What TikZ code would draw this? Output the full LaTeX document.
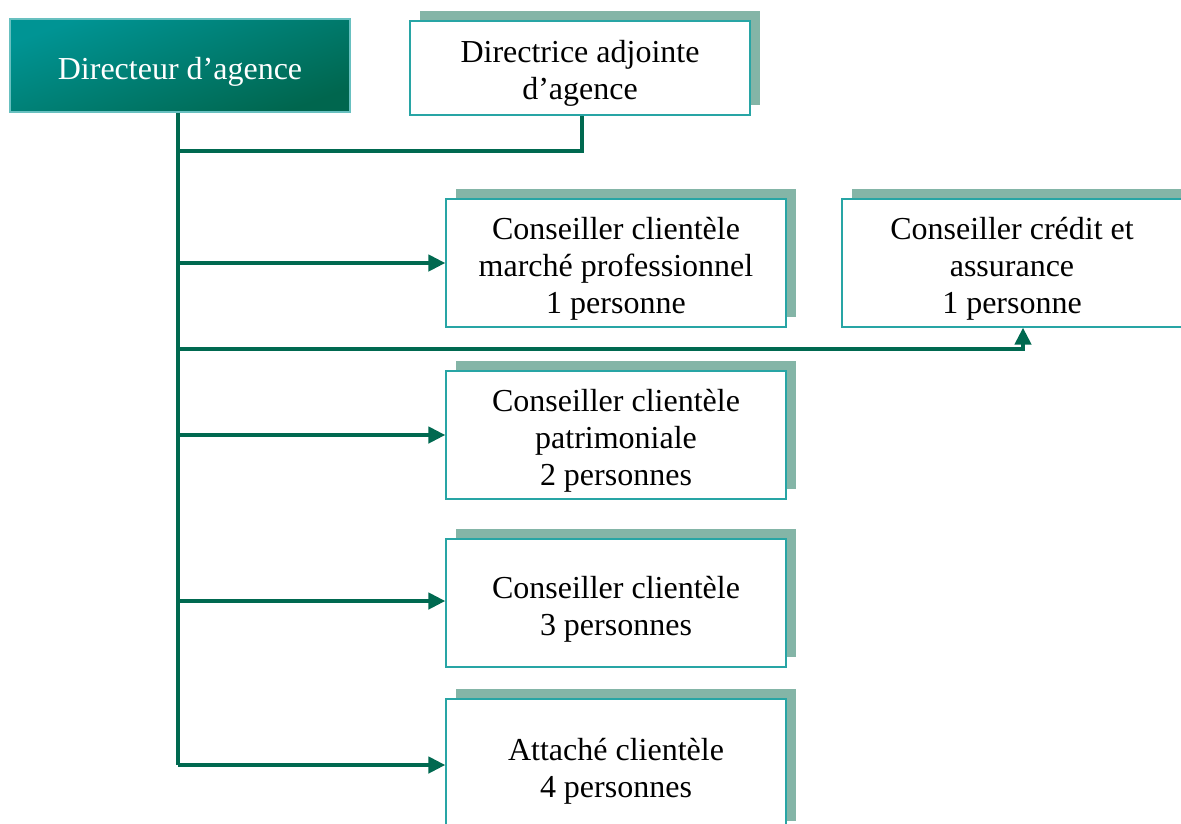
\documentclass[tikz,border=0pt]{standalone}
\usepackage{fontspec}
\setmainfont{Liberation Serif}
\usetikzlibrary{shadows,arrows.meta}
\definecolor{linec}{RGB}{0,105,80}
\definecolor{borderc}{RGB}{40,165,165}
\definecolor{shc}{RGB}{132,181,167}
\definecolor{dirtop}{RGB}{0,148,148}
\definecolor{dirbot}{RGB}{0,102,78}
\tikzset{
  orgbox/.style={draw=borderc, line width=1.2pt, fill=white, minimum width=340pt,
    minimum height=128pt, inner sep=0pt,
    drop shadow={shadow xshift=10pt, shadow yshift=10pt, fill=shc, opacity=1}},
  txt/.style={align=center, inner sep=0pt, font=\fontsize{32}{37}\selectfont},
  dirbox/.style={draw=borderc!70, line width=1.2pt, minimum width=340pt, minimum height=93pt,
    inner sep=0pt, text=white, font=\fontsize{32}{37}\selectfont, text height=34pt,
    top color=dirtop, bottom color=dirbot, shading angle=20},
  conn/.style={draw=linec, line width=4.5pt},
  arr/.style={conn, -{Triangle[length=17pt,width=16pt]}}
}
\begin{document}
\begin{tikzpicture}[x=1pt,y=-1pt]
\clip (0,0) rectangle (1181,823);
\fill[white] (0,0) rectangle (1181,823);
\node[dirbox] (dir) at (180,65.5) {Directeur d’agence};
\node[orgbox, minimum height=94pt] (adj) at (580,68) {};
\node[txt] (adj-t) at ([yshift=-5pt]adj.center) {Directrice adjointe\\d’agence};
\node[orgbox] (cmp) at (616,263) {};
\node[txt] (cmp-t) at ([yshift=-6pt]cmp.center) {Conseiller clientèle\\marché professionnel\\1 personne};
\node[orgbox] (cred) at (1012,263) {};
\node[txt] (cred-t) at ([yshift=-6pt]cred.center) {Conseiller crédit et\\assurance\\1 personne};
\node[orgbox] (pat) at (616,435) {};
\node[txt] (pat-t) at ([yshift=-6pt]pat.center) {Conseiller clientèle\\patrimoniale\\2 personnes};
\node[orgbox] (cc) at (616,603) {};
\node[txt] (cc-t) at ([yshift=-6pt]cc.center) {Conseiller clientèle\\3 personnes};
\node[orgbox, minimum height=132pt] (att) at (616,765) {};
\node[txt] (att-t) at ([yshift=-6pt]att.center) {Attaché clientèle\\4 personnes};
\coordinate (tbot) at (178,765);
\draw[conn] (dir.south -| tbot) -- (tbot);
\draw[conn] (178,151) -| ([xshift=2pt]adj.south);
\draw[arr] (tbot |- cmp.west) -- (cmp.west);
\draw[arr] (178,349) -| ([xshift=11pt]cred.south);
\draw[arr] (tbot |- pat.west) -- (pat.west);
\draw[arr] (178,601) -- (cc.west |- 0,601);
\draw[arr] (tbot) -- (att.west |- tbot);
\end{tikzpicture}
\end{document}
